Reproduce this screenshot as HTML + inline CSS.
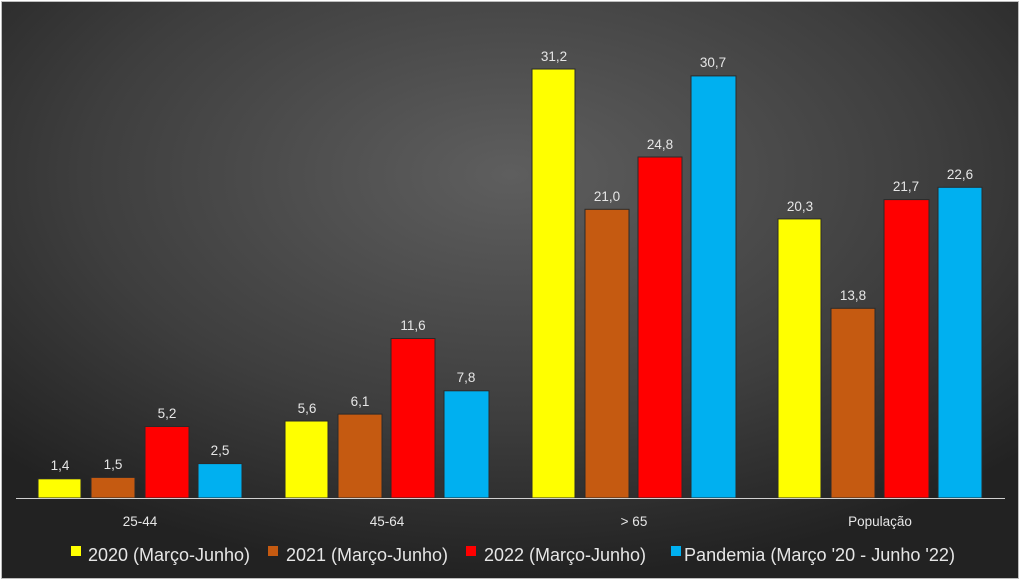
<!DOCTYPE html>
<html><head><meta charset="utf-8"><style>
html,body{margin:0;padding:0;background:#fff;}
svg{display:block;font-family:"Liberation Sans",sans-serif;}
</style></head><body>
<svg width="1023" height="583" viewBox="0 0 1023 583">
<defs>
<radialGradient id="bg" cx="50%" cy="30%" r="70%">
<stop offset="0" stop-color="#5e5e5e"/>
<stop offset="0.6" stop-color="#3e3e3e"/>
<stop offset="1" stop-color="#222"/>
</radialGradient>
</defs>
<rect x="1.5" y="1.5" width="1017" height="577" fill="url(#bg)" stroke="#bdbdbd" stroke-width="1"/>
<g stroke="#2a2a2a" stroke-width="1">
<rect x="38" y="478.8" width="43" height="19.2" fill="#ffff00"/>
<rect x="91" y="477.4" width="44" height="20.6" fill="#c55a11"/>
<rect x="145" y="426.5" width="44" height="71.5" fill="#ff0000"/>
<rect x="198" y="463.6" width="44" height="34.4" fill="#00b0f0"/>
<rect x="285" y="421" width="43" height="77" fill="#ffff00"/>
<rect x="338" y="414.1" width="44" height="83.9" fill="#c55a11"/>
<rect x="391" y="338.5" width="44" height="159.5" fill="#ff0000"/>
<rect x="444" y="390.8" width="45" height="107.2" fill="#00b0f0"/>
<rect x="532" y="69" width="43" height="429" fill="#ffff00"/>
<rect x="585" y="209.3" width="44" height="288.7" fill="#c55a11"/>
<rect x="638" y="157" width="44" height="341" fill="#ff0000"/>
<rect x="691" y="75.9" width="45" height="422.1" fill="#00b0f0"/>
<rect x="778" y="218.9" width="43" height="279.1" fill="#ffff00"/>
<rect x="831" y="308.3" width="44" height="189.7" fill="#c55a11"/>
<rect x="884" y="199.6" width="45" height="298.4" fill="#ff0000"/>
<rect x="938" y="187.3" width="44" height="310.7" fill="#00b0f0"/>
</g>
<line x1="16" y1="498.5" x2="1005" y2="498.5" stroke="#d0d0d0" stroke-width="1"/>
<g fill="#e6e6e6" font-size="13.5" text-anchor="middle">
<text x="60" y="470">1,4</text><text x="113" y="469">1,5</text><text x="167" y="418">5,2</text><text x="220" y="455">2,5</text>
<text x="307" y="413">5,6</text><text x="360" y="406">6,1</text><text x="413" y="330">11,6</text><text x="466" y="382">7,8</text>
<text x="554" y="61">31,2</text><text x="607" y="201">21,0</text><text x="660" y="149">24,8</text><text x="713" y="67">30,7</text>
<text x="800" y="211">20,3</text><text x="853" y="300">13,8</text><text x="906" y="191">21,7</text><text x="960" y="179">22,6</text>
<text x="140" y="526">25-44</text><text x="387" y="526">45-64</text><text x="634" y="526">&gt; 65</text><text x="880" y="526">População</text>
</g>
<g font-size="18" fill="#e6e6e6">
<rect x="71" y="546" width="10" height="10" fill="#ffff00"/><text x="88" y="561" textLength="162" lengthAdjust="spacingAndGlyphs">2020 (Março-Junho)</text>
<rect x="268" y="546" width="10" height="10" fill="#c55a11"/><text x="286" y="561" textLength="162" lengthAdjust="spacingAndGlyphs">2021 (Março-Junho)</text>
<rect x="466" y="546" width="10" height="10" fill="#ff0000"/><text x="484" y="561" textLength="162" lengthAdjust="spacingAndGlyphs">2022 (Março-Junho)</text>
<rect x="671" y="546" width="10" height="10" fill="#00b0f0"/><text x="684" y="561" textLength="271" lengthAdjust="spacingAndGlyphs">Pandemia (Março '20 - Junho '22)</text>
</g>
</svg>
</body></html>
